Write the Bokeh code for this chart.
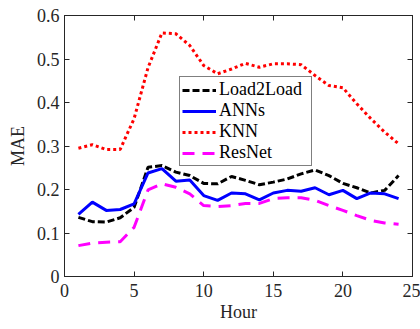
from bokeh.plotting import figure
from bokeh.models import LinearAxis, Legend, LegendItem, FixedTicker
from bokeh.embed import file_html
from bokeh.resources import INLINE

hours = list(range(1, 25))
load2load = [0.136, 0.126, 0.125, 0.135, 0.159, 0.251, 0.255, 0.240, 0.232, 0.214,
             0.213, 0.230, 0.221, 0.211, 0.217, 0.224, 0.236, 0.245, 0.232, 0.214,
             0.204, 0.192, 0.198, 0.232]
anns = [0.143, 0.171, 0.152, 0.154, 0.167, 0.238, 0.248, 0.219, 0.222, 0.186,
        0.175, 0.192, 0.190, 0.176, 0.192, 0.198, 0.196, 0.204, 0.188, 0.198,
        0.179, 0.192, 0.190, 0.179]
knn = [0.295, 0.303, 0.292, 0.292, 0.363, 0.480, 0.560, 0.558, 0.531, 0.485,
       0.466, 0.477, 0.490, 0.481, 0.489, 0.489, 0.487, 0.462, 0.439, 0.434,
       0.397, 0.363, 0.332, 0.305]
resnet = [0.071, 0.077, 0.079, 0.080, 0.113, 0.199, 0.213, 0.205, 0.190, 0.163,
          0.161, 0.163, 0.168, 0.168, 0.179, 0.181, 0.181, 0.175, 0.163, 0.152,
          0.140, 0.129, 0.123, 0.120]
x_ticks = [0, 5, 10, 15, 20, 25]
y_ticks = [0, 0.1, 0.2, 0.3, 0.4, 0.5, 0.6]

FONT = "Liberation Serif"
AX = "#262626"

p = figure(frame_width=348, frame_height=261, x_range=(0, 25), y_range=(0, 0.6),
           output_backend="svg", toolbar_location=None,
           min_border_left=64, min_border_top=15, min_border_right=8, min_border_bottom=53)
p.xgrid.visible = False
p.ygrid.visible = False
p.outline_line_color = AX
p.outline_line_alpha = 1.0
p.background_fill_color = "white"

for ax in (p.xaxis[0], p.yaxis[0]):
    ax.major_tick_in = 5
    ax.major_tick_out = 0
    ax.minor_tick_line_color = None
    ax.axis_line_color = AX
    ax.major_tick_line_color = AX
    ax.major_label_text_font = FONT
    ax.major_label_text_font_size = "18px"
    ax.major_label_text_color = AX
    ax.axis_label_text_font = FONT
    ax.axis_label_text_font_size = "18px"
    ax.axis_label_text_font_style = "normal"
    ax.axis_label_text_color = AX

p.xaxis[0].ticker = FixedTicker(ticks=x_ticks)
p.yaxis[0].ticker = FixedTicker(ticks=y_ticks)
p.yaxis[0].major_label_overrides = {0: "0"}
p.xaxis[0].axis_label = "Hour"
p.yaxis[0].axis_label = "MAE"
p.xaxis[0].major_label_standoff = 7
p.yaxis[0].major_label_standoff = 5
p.xaxis[0].axis_label_standoff = 2
p.yaxis[0].axis_label_standoff = 6

top = LinearAxis(ticker=FixedTicker(ticks=x_ticks), major_tick_in=5, major_tick_out=0,
                 minor_tick_line_color=None, major_label_text_font_size="1px",
                 major_label_text_color=None,
                 major_label_standoff=0, axis_line_color=AX, major_tick_line_color=AX)
right = LinearAxis(ticker=FixedTicker(ticks=y_ticks), major_tick_in=5, major_tick_out=0,
                   minor_tick_line_color=None, major_label_text_font_size="1px",
                   major_label_text_color=None,
                   major_label_standoff=0, axis_line_color=AX, major_tick_line_color=AX)
p.add_layout(top, "above")
p.add_layout(right, "right")

r1 = p.line(hours, load2load, line_color="black", line_width=3, line_dash="7 3")
r2 = p.line(hours, anns, line_color="#0000ff", line_width=3)
r3 = p.line(hours, knn, line_color="#ff0000", line_width=3, line_dash="3 3")
r4 = p.line(hours, resnet, line_color="#ff00ff", line_width=3, line_dash="12 8")

legend = Legend(items=[LegendItem(label="Load2Load", renderers=[r1]),
                       LegendItem(label="ANNs", renderers=[r2]),
                       LegendItem(label="KNN", renderers=[r3]),
                       LegendItem(label="ResNet", renderers=[r4])],
                location=(115, 110), label_text_font=FONT, label_text_font_size="18px",
                label_text_color="black", glyph_width=34, glyph_height=20,
                label_height=20, label_width=90, label_standoff=3, spacing=0, padding=2,
                margin=0, border_line_color="black", border_line_width=1,
                background_fill_alpha=1.0)
p.add_layout(legend, "center")

open("out.html", "w").write(file_html(p, INLINE))
